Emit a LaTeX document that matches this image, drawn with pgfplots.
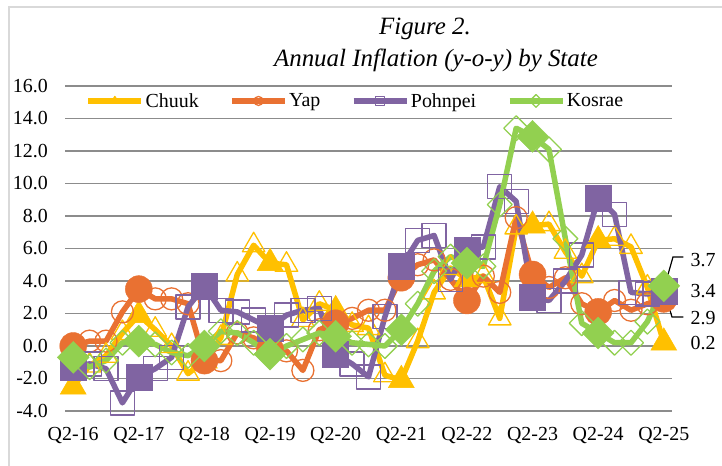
\documentclass[border=0pt]{standalone}
\usepackage{fontspec}
\setmainfont{Liberation Serif}
\usepackage{pgfplots}
\pgfplotsset{compat=1.18}
\usepackage{pgfplotstable}
\definecolor{chuuk}{HTML}{FFC000}
\definecolor{yap}{HTML}{E97132}
\definecolor{pohn}{HTML}{8064A2}
\definecolor{kos}{HTML}{92D050}
\definecolor{gridc}{HTML}{8C8C8C}
\definecolor{framec}{HTML}{D9D9D9}

% quarter index 0 = Q2-16 ... 36 = Q2-25
\pgfplotstableread{
x y
0 -2.5
1 -1.2
2 -0.6
3 0.8
4 1.9
5 1.0
6 0.0
7 -1.7
8 -0.9
9 0.5
10 4.4
11 6.2
12 5.1
13 5.0
14 1.6
15 2.6
16 2.2
17 1.3
18 1.1
19 -1.8
20 -2.1
21 0.3
22 3.3
23 4.8
24 4.1
25 4.3
26 1.7
27 7.3
28 7.4
29 7.5
30 5.8
31 4.3
32 6.5
33 6.6
34 6.1
35 3.6
36 0.2
}\tChuuk

\pgfplotstableread{
x y
0 0.0
1 0.3
2 0.3
3 2.1
4 3.5
5 2.9
6 2.9
7 2.6
8 -0.9
9 -0.9
10 0.8
11 0.5
12 -0.2
13 -0.3
14 -1.5
15 1.0
16 1.4
17 1.7
18 2.2
19 2.2
20 4.2
21 5.0
22 5.3
23 4.1
24 2.8
25 4.3
26 3.3
27 7.9
28 4.4
29 3.6
30 4.2
31 2.6
32 2.1
33 2.8
34 2.2
35 2.6
36 2.9
}\tYap

\pgfplotstableread{
x y
0 -1.3
1 -1.1
2 -1.4
3 -3.5
4 -1.9
5 -1.4
6 -0.7
7 2.4
8 3.7
9 2.2
10 2.1
11 1.6
12 1.1
13 1.9
14 2.2
15 2.3
16 -0.5
17 -1.1
18 -1.9
19 1.8
20 4.9
21 6.5
22 6.8
23 4.1
24 5.9
25 6.1
26 9.8
27 8.9
28 3.0
29 2.8
30 4.0
31 5.6
32 9.1
33 8.1
34 3.3
35 3.2
36 3.4
}\tPohn

\pgfplotstableread{
x y
0 -0.7
1 -1.3
2 -0.9
3 0.2
4 0.3
5 0.1
6 -0.4
7 -0.6
8 0.0
9 0.9
10 0.8
11 0.2
12 -0.5
13 0.0
14 0.4
15 0.8
16 0.6
17 0.2
18 0.1
19 0.0
20 1.0
21 2.6
22 4.6
23 5.5
24 5.1
25 4.9
26 8.7
27 13.4
28 12.9
29 12.1
30 6.6
31 1.4
32 0.8
33 0.2
34 0.2
35 1.5
36 3.7
}\tKos

\begin{document}
\begin{tikzpicture}[x=1bp,y=1bp]
\path[use as bounding box] (0,0) rectangle (722,466);
\draw[framec, line width=1.2bp] (9,0) -- (9,459) -- (722,459);
\node[font=\fontsize{25}{29}\selectfont\itshape, anchor=base, inner sep=0pt] at (425,431) {Figure 2.};
\node[font=\fontsize{25}{29}\selectfont\itshape, anchor=base east, inner sep=0pt] at (598,399) {Annual Inflation (y-o-y) by State};
\begin{axis}[
  at={(65bp,55bp)}, anchor=south west,
  width=607bp, height=325bp, scale only axis,
  xmin=-0.5, xmax=36.5, ymin=-4, ymax=16,
  clip=false,
  axis line style={draw=none},
  major tick length=0pt,
  ytick={-4,-2,0,2,4,6,8,10,12,14,16},
  yticklabels={-4.0,-2.0,0.0,2.0,4.0,6.0,8.0,10.0,12.0,14.0,16.0},
  xtick={0,4,8,12,16,20,24,28,32,36},
  xticklabels={Q2-16,Q2-17,Q2-18,Q2-19,Q2-20,Q2-21,Q2-22,Q2-23,Q2-24,Q2-25},
  ymajorgrids,
  grid style={gridc, line width=1.3bp},
  tick label style={font=\fontsize{20}{24}\selectfont, text=black},
  yticklabel style={inner sep=0pt, xshift=-17bp},
  xticklabel style={inner sep=0pt, yshift=-16bp},
  legend columns=4,
  legend style={at={(0.478,0.954)}, anchor=center, draw=none, fill=none,
    font=\fontsize{20}{24}\selectfont, inner sep=0pt,
    nodes={inner sep=1.5bp},
    /tikz/every even column/.append style={column sep=29bp}},
  legend image code/.code={
    \draw[mark repeat=2, mark phase=2, #1, mark size=4.5bp]
      plot coordinates {(0bp,0bp) (26.5bp,0bp) (53bp,0bp)};
  },
]
% Chuuk
\addplot[chuuk, line width=5.5bp, line join=round, mark=triangle, mark size=13bp,
  mark options={line width=1.3bp, solid, fill=none}] table {\tChuuk};
\addlegendentry{Chuuk}
\addplot[chuuk, only marks, mark=triangle*, mark size=15bp, forget plot,
  each nth point=4, filter discard warning=false,
  mark options={fill=chuuk, draw=chuuk}] table {\tChuuk};
% Yap
\addplot[yap, line width=5.5bp, line join=round, mark=o, mark size=11bp,
  mark options={line width=1.3bp, solid, fill=none}] table {\tYap};
\addlegendentry{Yap}
\addplot[yap, only marks, mark=*, mark size=13.5bp, forget plot,
  each nth point=4, filter discard warning=false,
  mark options={fill=yap, draw=yap}] table {\tYap};
% Pohnpei
\addplot[pohn, line width=5.5bp, line join=round, mark=square, mark size=12bp,
  mark options={line width=1.3bp, solid, fill=none}] table {\tPohn};
\addlegendentry{Pohnpei}
\addplot[pohn, only marks, mark=square*, mark size=13bp, forget plot,
  each nth point=4, filter discard warning=false,
  mark options={fill=pohn, draw=pohn}] table {\tPohn};
% Kosrae
\addplot[kos, line width=5.5bp, line join=round, mark=square, mark size=8.8bp,
  mark options={line width=1.3bp, solid, fill=none, rotate=45}] table {\tKos};
\addlegendentry{Kosrae}
\addplot[kos, only marks, mark=square*, mark size=11.3bp, forget plot,
  each nth point=4, filter discard warning=false,
  mark options={fill=kos, draw=kos, rotate=45}] table {\tKos};
% data labels at the last point
\node[font=\fontsize{20}{24}\selectfont, inner sep=0pt] at (axis cs:38.4,5.3) {3.7};
\node[font=\fontsize{20}{24}\selectfont, inner sep=0pt] at (axis cs:38.4,3.4) {3.4};
\node[font=\fontsize{20}{24}\selectfont, inner sep=0pt] at (axis cs:38.4,1.72) {2.9};
\node[font=\fontsize{20}{24}\selectfont, inner sep=0pt] at (axis cs:38.4,0.18) {0.2};
\draw[black, line width=1.2bp] (axis cs:37.2,5.48) -- (axis cs:36.56,5.48) -- (axis cs:36.1,3.85);
\draw[black, line width=1.2bp] (axis cs:36.07,3.24) -- (axis cs:36.5,1.78) -- (axis cs:37.2,1.78);
\end{axis}
\end{tikzpicture}
\end{document}
